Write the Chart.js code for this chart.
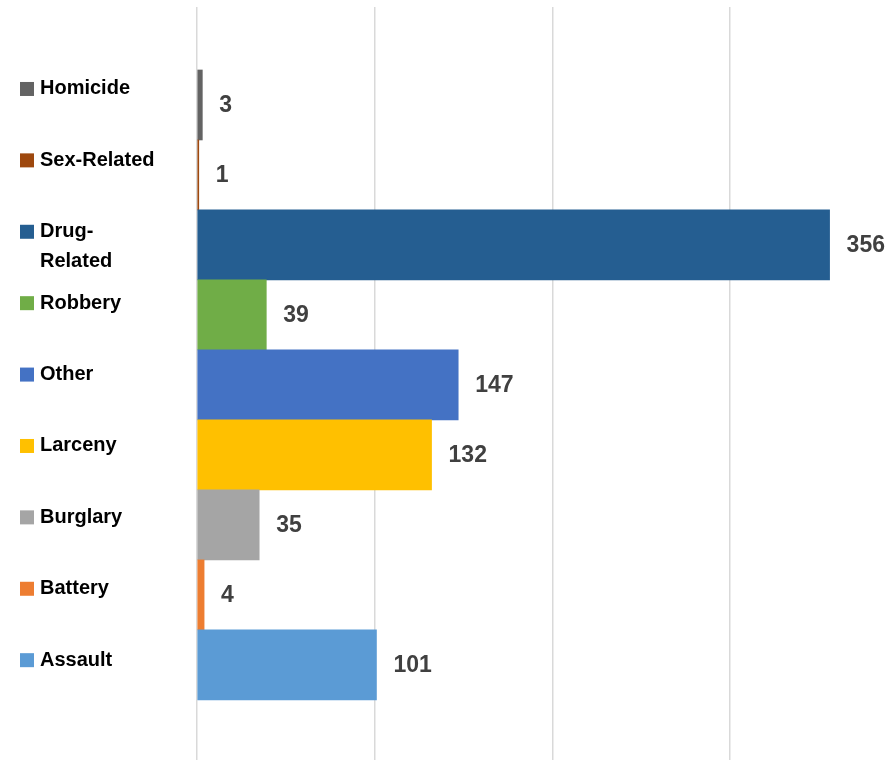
<!DOCTYPE html>
<html>
<head>
<meta charset="utf-8">
<script src="https://cdn.jsdelivr.net/npm/chart.js@4/dist/chart.umd.min.js"></script>
<style>
  body { margin: 0; background: #fff; }
  canvas { display: block; }
</style>
</head>
<body>
<canvas id="crimeChart" width="890" height="760"></canvas>
<script>
// Offense categories, top to bottom
const categories = ['Homicide', 'Sex-Related', ['Drug-', 'Related'], 'Robbery', 'Other', 'Larceny', 'Burglary', 'Battery', 'Assault'];
const counts = [3, 1, 356, 39, 147, 132, 35, 4, 101];
const xTicks = [0, 100, 200, 300];

const barColors = ['#636363', '#9E480E', '#255E91', '#70AD47', '#4472C4', '#FFC000', '#A5A5A5', '#ED7D31', '#5B9BD5'];

// Legend squares + names down the left side (rows a bit taller than the bars)
const sideLegend = {
    id: 'sideLegend',
    afterDraw(chart) {
        const ctx = chart.ctx;
        const y = chart.scales.y;
        const firstRow = y.getPixelForValue(0) - 16;
        const rowPitch = 71.4;
        ctx.save();
        ctx.font = 'bold 20px "Liberation Sans", Arial, sans-serif';
        ctx.textBaseline = 'middle';
        ctx.textAlign = 'left';
        categories.forEach((name, i) => {
            const lines = Array.isArray(name) ? name : [name];
            const top = firstRow + i * rowPitch;
            ctx.fillStyle = barColors[i];
            ctx.fillRect(20, top - 7, 14, 14);
            ctx.fillStyle = '#000';
            lines.forEach((line, j) => ctx.fillText(line, 40, top + j * 29.5));
        });
        ctx.restore();
    }
};

// Value labels at the end of each bar
const valueLabels = {
    id: 'valueLabels',
    afterDatasetsDraw(chart) {
        const ctx = chart.ctx;
        const meta = chart.getDatasetMeta(0);
        ctx.save();
        ctx.font = 'bold 23px "Liberation Sans", Arial, sans-serif';
        ctx.fillStyle = '#404040';
        ctx.textBaseline = 'middle';
        ctx.textAlign = 'left';
        meta.data.forEach((bar, i) => {
            ctx.fillText(String(counts[i]), bar.x + 17, bar.y + 1);
        });
        ctx.restore();
    }
};

new Chart(document.getElementById('crimeChart'), {
    type: 'bar',
    data: {
        datasets: [{
            data: counts.map((v, i) => ({ x: v, y: i })),
            backgroundColor: barColors,
            borderWidth: 0,
            barPercentage: 1,
            categoryPercentage: 1
        }]
    },
    options: {
        indexAxis: 'y',
        responsive: false,
        animation: false,
        devicePixelRatio: 1,
        layout: { padding: { left: 197, top: 7, right: 0, bottom: 0 } },
        plugins: {
            legend: { display: false },
            tooltip: { enabled: false }
        },
        scales: {
            x: {
                type: 'linear',
                min: 0,
                max: 390,
                afterBuildTicks: axis => { axis.ticks = xTicks.map(v => ({ value: v })); },
                ticks: { display: false },
                grid: { color: '#d9d9d9', lineWidth: 1.5, drawTicks: false },
                border: { display: false }
            },
            y: {
                type: 'linear',
                display: false,
                reverse: true,
                offset: false,
                min: -1.4,
                max: 9.36,
                afterBuildTicks: axis => { axis.ticks = categories.map((c, i) => ({ value: i })); }
            }
        }
    },
    plugins: [sideLegend, valueLabels]
});
</script>
</body>
</html>
